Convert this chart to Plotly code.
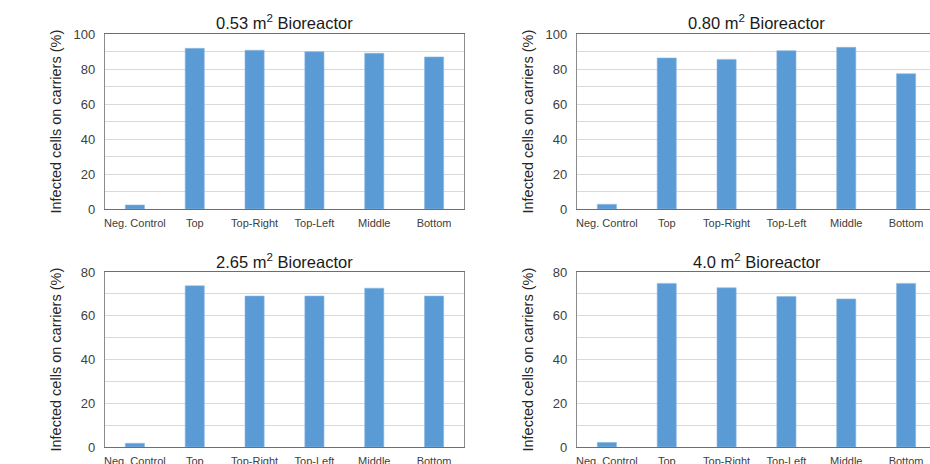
import plotly.graph_objects as go

categories = ["Neg. Control", "Top", "Top-Right", "Top-Left", "Middle", "Bottom"]
titles = ["0.53 m<sup>2</sup> Bioreactor", "0.80 m<sup>2</sup> Bioreactor",
          "2.65 m<sup>2</sup> Bioreactor", "4.0 m<sup>2</sup> Bioreactor"]
vals_053 = [2.3, 91.8, 90.7, 89.9, 89.0, 86.9]
vals_080 = [2.7, 86.3, 85.5, 90.5, 92.4, 77.3]
vals_265 = [1.7, 73.7, 69.0, 69.0, 72.6, 69.0]
vals_400 = [2.1, 74.8, 72.8, 68.8, 67.7, 74.8]
y_max = [100, 100, 80, 80]
y_title = "Infected cells on carriers (%)"

W, H = 930, 464
series = [vals_053, vals_080, vals_265, vals_400]
# pixel boxes on screen (left, right, top, bottom)
boxes = [(105, 464, 34, 209), (577, 936, 34, 209),
         (105, 464, 272, 447), (577, 936, 272, 447)]
title_y = [22, 22, 261, 261]
cat_w = (464 - 105) / 6.0

fig = go.Figure()
annotations = []
BAR = "#5B9BD5"
FRAME = "#8C8C8C"
FONT = "Arial, Liberation Sans"
for i, (vals, box) in enumerate(zip(series, boxes)):
    n = "" if i == 0 else str(i + 1)
    l, r, t, b = box
    r_draw = min(r, W)
    xmax = -0.5 + (r_draw - l) / cat_w
    fig.add_trace(go.Bar(x=categories, y=vals,
                         marker=dict(color=BAR, line=dict(color="#8DB8E2", width=0.6)),
                         xaxis="x" + n, yaxis="y" + n, showlegend=False))
    fig.update_layout(**{
        "xaxis" + n: dict(domain=[l / W, r_draw / W], anchor="y" + n,
                          type="category", range=[-0.5, xmax], automargin=False,
                          showline=True, linecolor="#6E6E6E", linewidth=1.2,
                          mirror=True, showgrid=False, zeroline=False,
                          ticks="", ticklabelstandoff=4,
                          tickfont=dict(family=FONT, size=11, color="#404040"),
                          fixedrange=True),
        "yaxis" + n: dict(domain=[1 - b / H, 1 - t / H], anchor="x" + n,
                          range=[0, y_max[i]], tickmode="linear", tick0=0, dtick=20,
                          automargin=False,
                          showline=True, linecolor=FRAME, linewidth=1.2,
                          mirror=(r <= W),
                          showgrid=True, gridcolor="#D9D9D9", gridwidth=1,
                          minor=dict(dtick=10, showgrid=True, gridcolor="#D9D9D9", gridwidth=1),
                          zeroline=False, ticks="", ticklabelstandoff=6,
                          tickfont=dict(family=FONT, size=13, color="#404040"),
                          fixedrange=True),
    })
    cx = (l + r) / 2.0
    annotations.append(dict(text=titles[i], x=cx / W, y=1 - title_y[i] / H,
                            xref="paper", yref="paper", showarrow=False,
                            xanchor="center", yanchor="middle",
                            font=dict(family=FONT, size=16.5, color="#1A1A1A")))
    annotations.append(dict(text=y_title, x=(l - 50) / W, y=1 - ((t + b) / 2) / H,
                            xref="paper", yref="paper", showarrow=False, textangle=-90,
                            xanchor="center", yanchor="middle",
                            font=dict(family=FONT, size=14.5, color="#262626")))

fig.update_layout(width=W, height=H, margin=dict(l=0, r=0, t=0, b=0, autoexpand=False),
                  paper_bgcolor="white", plot_bgcolor="white",
                  bargap=0.68, annotations=annotations)
fig.write_html("out.html", config={"displayModeBar": False},
               post_script="document.body.style.margin='0';"
                           "document.body.style.overflow='hidden';"
                           "document.documentElement.style.overflow='hidden';")
